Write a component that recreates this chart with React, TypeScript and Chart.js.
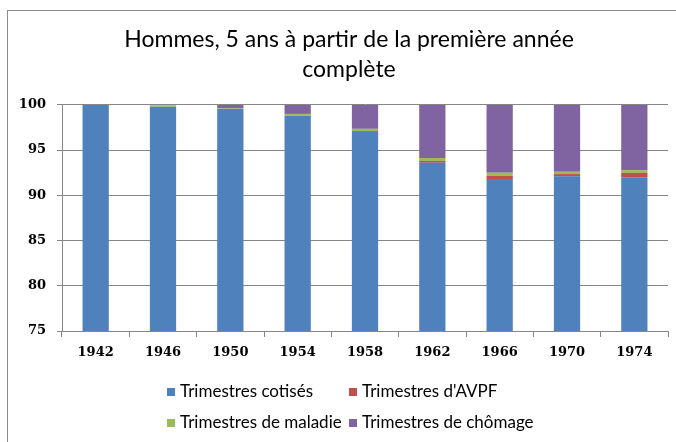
import React, { useEffect, useRef } from 'react';
import { Chart, registerables } from 'chart.js';

Chart.register(...registerables);

const categories = ['1942', '1946', '1950', '1954', '1958', '1962', '1966', '1970', '1974'];
const cotises = [100, 99.8, 99.55, 98.8, 97.0, 93.6, 91.8, 92.1, 92.0];
const avpf = [0, 0, 0, 0, 0.1, 0.2, 0.37, 0.25, 0.48];
const maladie = [0, 0.15, 0.05, 0.2, 0.25, 0.33, 0.33, 0.25, 0.3];
const chomage = [0, 0.05, 0.4, 1.0, 2.65, 5.87, 7.5, 7.4, 7.22];
const seriesNames = ['Trimestres cotisés', "Trimestres d'AVPF", 'Trimestres de maladie', 'Trimestres de chômage'];
const seriesColors = ['#4F81BD', '#C0504D', '#9BBB59', '#8064A2'];
const yMin = 75;
const yMax = 100;
const yStep = 5;
const titleLines = ['Hommes, 5 ans à partir de la première année', 'complète'];

const gridLegend = {
  id: 'gridLegend',
  afterDraw(chart: any) {
    const ctx = chart.ctx;
    const ds = chart.data.datasets;
    const colW = 182;
    const left = chart.width / 2 - colW;
    ctx.save();
    ctx.font = '17px Lato';
    ctx.textBaseline = 'middle';
    ctx.textAlign = 'left';
    ds.forEach((d: any, i: number) => {
      const col = i % 2;
      const row = Math.floor(i / 2);
      const x = left + col * colW;
      const y = chart.chartArea.bottom + 61 + row * 31;
      ctx.fillStyle = d.backgroundColor;
      ctx.fillRect(x, y - 4, 8, 8);
      ctx.fillStyle = '#000';
      ctx.fillText(d.label, x + 13, y);
    });
    ctx.restore();
  },
};

export default function App() {
  const ref = useRef<HTMLCanvasElement | null>(null);
  useEffect(() => {
    if (!ref.current) return;
    const series = [cotises, avpf, maladie, chomage];
    const chart = new Chart(ref.current, {
      type: 'bar',
      data: {
        labels: categories,
        datasets: series.map((s, i) => ({
          label: seriesNames[i],
          data: s,
          backgroundColor: seriesColors[i],
          borderWidth: 0,
          categoryPercentage: 1,
          barPercentage: 0.39,
        })),
      },
      options: {
        responsive: false,
        animation: false,
        devicePixelRatio: 1,
        layout: { padding: { top: 0, left: 0, right: 0, bottom: 72 } },
        plugins: {
          legend: { display: false },
          tooltip: { enabled: false },
          title: {
            display: true,
            text: titleLines,
            color: '#000',
            font: { family: 'Lato', size: 23, weight: 'normal', lineHeight: 1.28 },
            padding: { top: 14, bottom: 21 },
          },
        },
        scales: {
          x: {
            stacked: true,
            grid: { display: true, drawOnChartArea: false, offset: true, tickLength: 6, color: '#868686' },
            border: { color: '#868686' },
            ticks: { color: '#000', font: { family: 'DejaVu Serif', size: 13, weight: 'bold' }, padding: 8, maxRotation: 0 },
            afterFit(s: any) { s.height = 40; },
          },
          y: {
            stacked: true,
            min: yMin,
            max: yMax,
            ticks: { stepSize: yStep, color: '#000', font: { family: 'DejaVu Serif', size: 13, weight: 'bold' }, padding: 11 },
            grid: { color: '#868686', tickLength: 5 },
            border: { color: '#868686' },
            afterFit(s: any) { s.width = 54; },
          },
          yRightSpace: {
            type: 'linear',
            position: 'right',
            display: true,
            grid: { display: false, drawTicks: false },
            border: { display: false },
            ticks: { display: false },
            afterFit(s: any) { s.width = 22; },
          },
        },
      },
      plugins: [gridLegend],
    });
    return () => chart.destroy();
  }, []);
  return (
    <div
      style={{
        position: 'absolute',
        left: 7,
        top: 10,
        width: 669,
        height: 432,
        overflow: 'hidden',
        borderLeft: '1px solid #8c8c8c',
        borderTop: '1px solid #8c8c8c',
        background: '#fff',
      }}
    >
      <canvas ref={ref} width={682} height={432} style={{ display: 'block' }} />
    </div>
  );
}
